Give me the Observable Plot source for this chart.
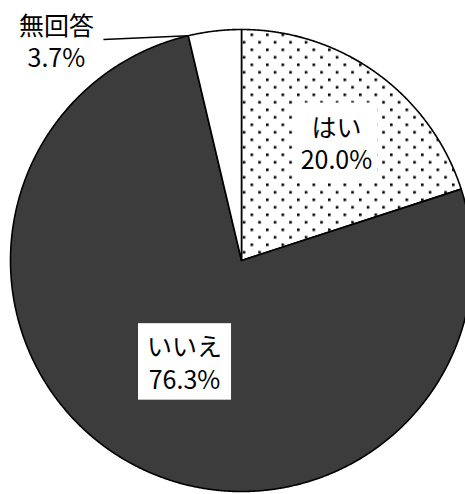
<!DOCTYPE html>
<html><head><meta charset="utf-8">
<script src="https://cdn.jsdelivr.net/npm/d3@7"></script>
<script src="https://cdn.jsdelivr.net/npm/@observablehq/plot@0.6"></script>
<style>html,body{margin:0;padding:0;background:#fff;overflow:hidden}</style>
</head><body>
<script>
// ---- data ----
const categories = ["はい", "いいえ", "無回答"];
const percents = [20.0, 76.3, 3.7];

// ---- layout / style ----
const W = 465, H = 494;
const cx = 241, cy = 260, R = 231;
const fills = ["url(#dots)", "url(#dark)", "#ffffff"];
const labelPlace = [{angle: 38.8, r: 0.656}, {angle: 209.3, r: 0.504}, {angle: 319.9, r: 1.244}];
const leaderStart = {angle: 328.0, r: 1.128};
const boxPad = [{x: 5, y: 5}, {x: 9, y: 4}, null];
const font = "'Noto Sans CJK JP', 'Noto Sans', sans-serif";

const rad = d => d * Math.PI / 180;
const arcs = d3.pie().sort(null).value(d => d)(percents);

const slices = arcs.map((a, i) => {
  const pts = [{x: 0, y: 0}];
  const n = Math.max(2, Math.ceil((a.endAngle - a.startAngle) / rad(0.25)));
  for (let k = 0; k <= n; k++) {
    const t = a.startAngle + (a.endAngle - a.startAngle) * k / n;
    pts.push({x: Math.sin(t), y: Math.cos(t)});
  }
  pts.push({x: 0, y: 0});
  return pts;
});

const labels = arcs.map((a, i) => ({
  x: labelPlace[i].r * Math.sin(rad(labelPlace[i].angle)),
  y: labelPlace[i].r * Math.cos(rad(labelPlace[i].angle)),
  text: categories[i] + "\n" + percents[i].toFixed(1) + "%",
  pad: boxPad[i]
}));

const leaders = [{
  x1: leaderStart.r * Math.sin(rad(leaderStart.angle)),
  y1: leaderStart.r * Math.cos(rad(leaderStart.angle)),
  x2: Math.sin(arcs[2].startAngle),
  y2: Math.cos(arcs[2].startAngle)
}];

const plot = Plot.plot({
  width: W, height: H,
  margin: 0,
  x: {domain: [-1, 1], range: [cx - R, cx + R], axis: null},
  y: {domain: [-1, 1], range: [cy + R, cy - R], axis: null},
  style: {background: "#fff", fontFamily: font, overflow: "visible"},
  marks: [
    ...slices.map((pts, i) => Plot.line(pts, {x: "x", y: "y", fill: fills[i], stroke: "#000", strokeWidth: 1.6, curve: "linear", strokeLinejoin: "round"})),
    Plot.link(leaders, {x1: "x1", y1: "y1", x2: "x2", y2: "y2", stroke: "#000", strokeWidth: 1.6}),
    Plot.text(labels, {x: "x", y: "y", text: "text", fontSize: 25, lineHeight: 1.3, fill: "#000", textAnchor: "middle", lineAnchor: "middle", fontFamily: font})
  ]
});

const svg = d3.select(plot);
const defs = svg.insert("defs", ":first-child");
const pd = defs.append("pattern").attr("id", "dots").attr("patternUnits", "userSpaceOnUse")
  .attr("width", 15.5).attr("height", 15).attr("x", 2).attr("y", 3);
pd.append("rect").attr("width", 15.5).attr("height", 15).attr("fill", "#fff");
pd.append("rect").attr("x", 0).attr("y", 0).attr("width", 2.6).attr("height", 2.6).attr("fill", "#000");
pd.append("rect").attr("x", 7.75).attr("y", 7.5).attr("width", 2.6).attr("height", 2.6).attr("fill", "#000");
const pk = defs.append("pattern").attr("id", "dark").attr("patternUnits", "userSpaceOnUse")
  .attr("width", 2).attr("height", 2);
pk.append("rect").attr("width", 2).attr("height", 2).attr("fill", "#111");
pk.append("rect").attr("x", 1).attr("y", 0).attr("width", 1).attr("height", 1).attr("fill", "#666");
pk.append("rect").attr("x", 0).attr("y", 1).attr("width", 1).attr("height", 1).attr("fill", "#666");

document.body.append(plot);

// white box behind labels that sit on a textured fill
svg.selectAll("text").each(function() {
  const t = this.textContent;
  const lab = labels.find(l => l.pad && t === l.text.replace("\n", ""));
  if (!lab) return;
  const b = this.getBBox();
  d3.select(this.parentNode).insert("rect", () => this)
    .attr("x", b.x - lab.pad.x).attr("y", b.y - lab.pad.y)
    .attr("width", b.width + 2 * lab.pad.x).attr("height", b.height + 2 * lab.pad.y)
    .attr("fill", "#fff").attr("transform", this.getAttribute("transform"));
});
</script>
</body></html>
